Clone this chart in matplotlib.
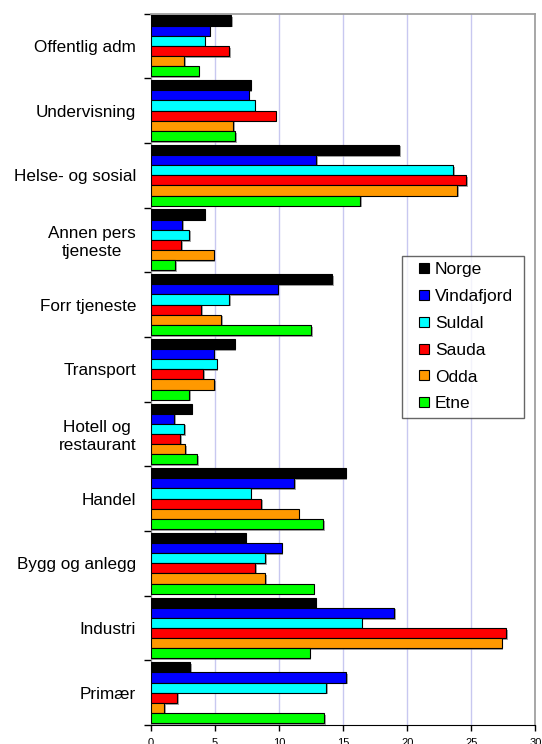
import matplotlib
matplotlib.use("Agg")
import matplotlib.pyplot as plt
import matplotlib.patheffects as pe
from matplotlib.lines import Line2D
import numpy as np

plt.rcParams['font.family'] = ['Liberation Sans', 'DejaVu Sans']

categories = ["Offentlig adm", "Undervisning", "Helse- og sosial", "Annen pers\ntjeneste",
              "Forr tjeneste", "Transport", "Hotell og\nrestaurant", "Handel",
              "Bygg og anlegg", "Industri", "Primær"]
series_names = ["Norge", "Vindafjord", "Suldal", "Sauda", "Odda", "Etne"]
colors = ["#000000", "#0000ff", "#00ffff", "#ff0000", "#ff9900", "#00ff00"]

norge      = [6.3, 7.8, 19.35, 4.2, 14.15, 6.55, 3.2, 15.2, 7.4, 12.85, 3.1]
vindafjord = [4.6, 7.65, 12.9, 2.45, 9.9, 4.9, 1.85, 11.2, 10.2, 19.0, 15.25]
suldal     = [4.2, 8.1, 23.6, 3.0, 6.1, 5.15, 2.6, 7.8, 8.95, 16.45, 13.7]
sauda      = [6.1, 9.75, 24.6, 2.4, 3.95, 4.1, 2.3, 8.6, 8.15, 27.7, 2.05]
odda       = [2.6, 6.45, 23.9, 4.9, 5.5, 4.95, 2.7, 11.55, 8.95, 27.35, 1.05]
etne       = [3.75, 6.6, 16.35, 1.9, 12.5, 3.0, 3.65, 13.45, 12.7, 12.4, 13.55]
values = [norge, vindafjord, suldal, sauda, odda, etne]

xticks = [0, 5, 10, 15, 20, 25, 30]

fig = plt.figure(figsize=(5.42, 7.44), dpi=100)
ax = fig.add_axes([0.278, 0.0255, 0.71, 0.9563])

n_cat = len(categories)
ypos = np.arange(n_cat)[::-1]  # top category at highest y
h = 0.157
offsets = [(2.5 - k) * h for k in range(6)]
shadow = [pe.SimplePatchShadow(offset=(1.2, -1.2), shadow_rgbFace='#808080', alpha=0.7), pe.Normal()]

for k, (name, vals, col) in enumerate(zip(series_names, values, colors)):
    bars = ax.barh(ypos + offsets[k], vals, height=h, color=col, edgecolor='black',
                   linewidth=0.8, zorder=3)
    for b in bars:
        b.set_path_effects(shadow)

ax.set_xlim(0, 30)
ax.set_ylim(-0.5, n_cat - 0.5)
ax.set_xticks(xticks)
ax.set_xticklabels([str(t) for t in xticks], fontsize=8)
ax.xaxis.grid(True, color='#c8c8f0', linewidth=1.0, zorder=0)
ax.set_axisbelow(True)

ax.set_yticks(ypos)
ax.set_yticklabels(categories, fontsize=12.3, multialignment='center')
ax.tick_params(axis='y', length=0, pad=10.5)
ax.set_yticks(np.arange(-0.5, n_cat, 1.0), minor=True)
ax.tick_params(axis='y', which='minor', length=5, width=1, color='black', direction='out')
ax.tick_params(axis='x', length=4, width=1, color='black', direction='out', pad=5)

for s in ['top', 'right']:
    ax.spines[s].set_color('#a0a0a0')
    ax.spines[s].set_linewidth(1.3)
ax.spines['left'].set_color('#808080')
ax.spines['bottom'].set_color('black')

handles = [Line2D([], [], linestyle='none', marker='s', markersize=7.9,
                  markerfacecolor=c, markeredgecolor='black', markeredgewidth=0.8)
           for c in colors]
leg = ax.legend(handles, series_names, loc='upper left',
                bbox_to_anchor=(0.7412, 0.4399, 0.2262, 0.216), bbox_transform=fig.transFigure,
                mode='expand', borderaxespad=0, fontsize=12.5, frameon=True, fancybox=False,
                edgecolor='#404040', handlelength=1.79, handletextpad=-0.24,
                labelspacing=0.67, borderpad=0.36)
leg.get_frame().set_linewidth(1.0)

fig.savefig("out.png", dpi=100)
